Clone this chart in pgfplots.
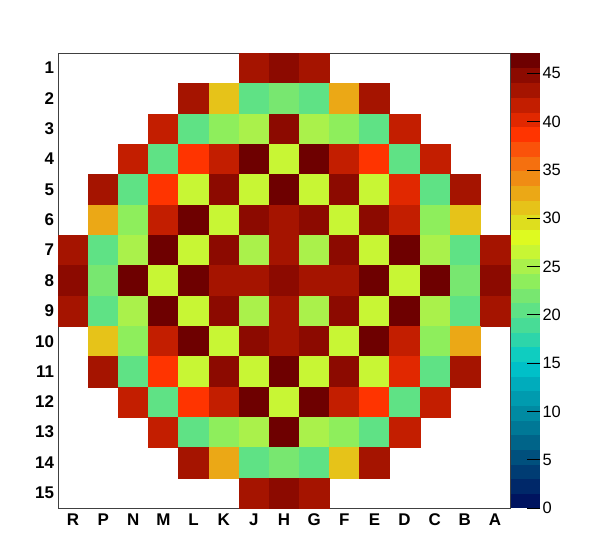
\documentclass[border=0pt]{standalone}
\usepackage{pgfplots}
\usepackage{pgfplotstable}
\pgfplotsset{compat=1.18}
\usepackage{fontspec}
\setmainfont{Liberation Sans}

\pgfdeclareplotmark{cell}{%
  \pgfpathrectangle{\pgfpoint{-15.07bp}{-15.17bp}}{\pgfpoint{30.14bp}{30.34bp}}%
  \pgfusepathqfillstroke}

% x: R=1 ... A=15 ; y: row 1..15 ; c: value
\pgfplotstableread{
x y c
7 1 43.30
8 1 44.82
9 1 43.30
5 2 43.30
6 2 31.15
7 2 20.51
8 2 22.03
9 2 20.51
10 2 32.67
11 2 43.30
4 3 41.78
5 3 20.51
6 3 23.55
7 3 25.07
8 3 44.82
9 3 25.07
10 3 23.55
11 3 20.51
12 3 41.78
3 4 41.78
4 4 20.51
5 4 38.74
6 4 41.78
7 4 46.34
8 4 26.59
9 4 46.34
10 4 41.78
11 4 38.74
12 4 20.51
13 4 41.78
2 5 43.30
3 5 20.51
4 5 38.74
5 5 26.59
6 5 44.82
7 5 26.59
8 5 46.34
9 5 26.59
10 5 44.82
11 5 26.59
12 5 40.26
13 5 20.51
14 5 43.30
2 6 32.67
3 6 23.55
4 6 41.78
5 6 46.34
6 6 26.59
7 6 44.82
8 6 43.30
9 6 44.82
10 6 26.59
11 6 44.82
12 6 41.78
13 6 23.55
14 6 31.15
1 7 43.30
2 7 20.51
3 7 25.07
4 7 46.34
5 7 26.59
6 7 44.82
7 7 25.07
8 7 43.30
9 7 25.07
10 7 44.82
11 7 26.59
12 7 46.34
13 7 25.07
14 7 20.51
15 7 43.30
1 8 44.82
2 8 22.03
3 8 46.34
4 8 26.59
5 8 46.34
6 8 43.30
7 8 43.30
8 8 44.82
9 8 43.30
10 8 43.30
11 8 46.34
12 8 26.59
13 8 46.34
14 8 22.03
15 8 44.82
1 9 43.30
2 9 20.51
3 9 25.07
4 9 46.34
5 9 26.59
6 9 44.82
7 9 25.07
8 9 43.30
9 9 25.07
10 9 44.82
11 9 26.59
12 9 46.34
13 9 25.07
14 9 20.51
15 9 43.30
2 10 31.15
3 10 23.55
4 10 41.78
5 10 46.34
6 10 26.59
7 10 44.82
8 10 43.30
9 10 44.82
10 10 26.59
11 10 46.34
12 10 41.78
13 10 23.55
14 10 32.67
2 11 43.30
3 11 20.51
4 11 38.74
5 11 26.59
6 11 44.82
7 11 26.59
8 11 46.34
9 11 26.59
10 11 44.82
11 11 26.59
12 11 40.26
13 11 20.51
14 11 43.30
3 12 41.78
4 12 20.51
5 12 38.74
6 12 41.78
7 12 46.34
8 12 26.59
9 12 46.34
10 12 41.78
11 12 38.74
12 12 20.51
13 12 41.78
4 13 41.78
5 13 20.51
6 13 23.55
7 13 25.07
8 13 46.34
9 13 25.07
10 13 23.55
11 13 20.51
12 13 41.78
5 14 43.30
6 14 32.67
7 14 20.51
8 14 22.03
9 14 20.51
10 14 31.15
11 14 43.30
7 15 43.30
8 15 44.82
9 15 43.30
}\cells

\pgfplotsset{
  colormap={rootpal}{
    rgb255=(0,20,95) rgb255=(0,40,105) rgb255=(0,60,115) rgb255=(0,80,125)
    rgb255=(0,100,137) rgb255=(0,120,150) rgb255=(0,138,162) rgb255=(0,155,175)
    rgb255=(0,172,188) rgb255=(0,192,200) rgb255=(15,205,192) rgb255=(45,213,170)
    rgb255=(72,220,150) rgb255=(95,226,133) rgb255=(120,231,112) rgb255=(142,238,92)
    rgb255=(170,241,75) rgb255=(200,246,52) rgb255=(222,250,32) rgb255=(222,222,30)
    rgb255=(230,195,25) rgb255=(235,168,22) rgb255=(240,140,20) rgb255=(245,112,15)
    rgb255=(250,82,10) rgb255=(255,52,0) rgb255=(225,40,0) rgb255=(195,30,0)
    rgb255=(165,20,0) rgb255=(140,10,0) rgb255=(110,0,0)
  }
}

\begin{document}
\begin{tikzpicture}
\path[use as bounding box] (-58bp,-44bp) rectangle (540bp,508bp);
\begin{axis}[
  at={(0,0)}, anchor=south west,
  scale only axis,
  width=452bp, height=455bp,
  xmin=0.5, xmax=15.5, ymin=0.5, ymax=15.5,
  y dir=reverse,
  axis on top,
  axis line style={draw=black!75, line width=0.7pt},
  xtick={1,...,15},
  xticklabels={R,P,N,M,L,K,J,H,G,F,E,D,C,B,A},
  ytick={1,...,15},
  yticklabels={1,2,3,4,5,6,7,8,9,10,11,12,13,14,15},
  major tick length=0pt,
  tick label style={font=\bfseries\fontsize{17}{19}\selectfont},
  xticklabel style={yshift=-2bp},
  yticklabel style={xshift=-0.5bp},
  colormap name=rootpal,
  colormap access=piecewise constant,
  point meta min=0, point meta max=47.1,
  colorbar sampled,
  colorbar style={
    samples=32,
    at={(parent axis.north east)}, anchor=north west, xshift=-7.5bp,
    scale only axis,
    width=29bp, height=455bp,
    ytick={0,5,...,45},
    ytick pos=right,
    yticklabel pos=right,
    tick align=inside,
    major tick length=13bp,
    tick style={black, line width=0.6pt},
    axis line style={draw=none},
    yticklabel style={font=\fontsize{16.5}{18}\selectfont, xshift=-1bp,
      /pgf/number format/assume math mode=true},
  },
]
\addplot[scatter, only marks, mark=cell, point meta=explicit,
  mark options={line width=0.2pt},
  scatter/use mapped color={draw=mapped color, fill=mapped color}]
  table[x=x, y=y, meta=c] {\cells};
\end{axis}
\end{tikzpicture}
\end{document}
